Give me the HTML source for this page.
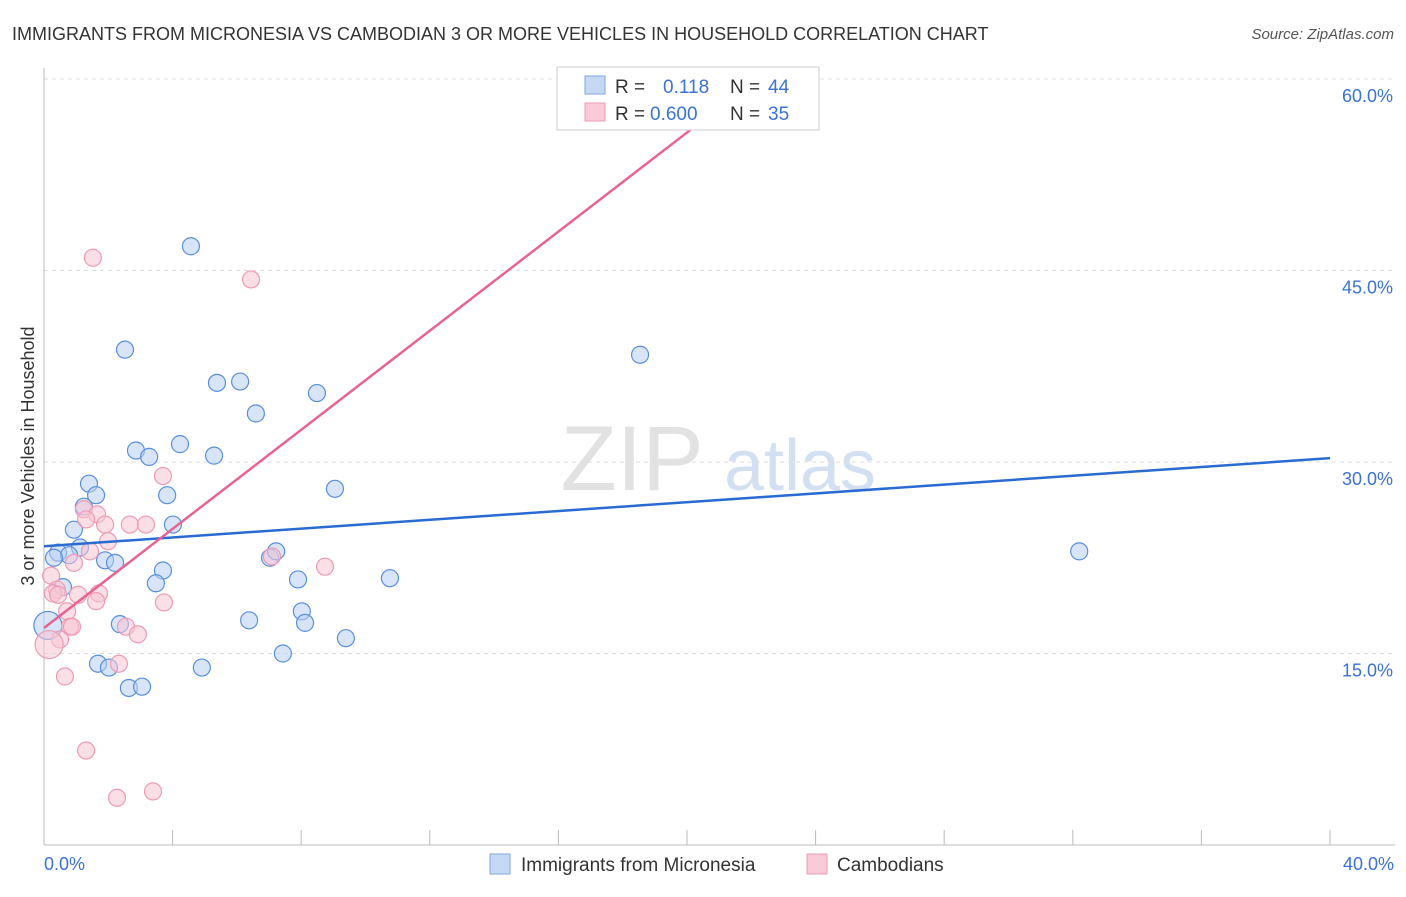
<!DOCTYPE html>
<html><head><meta charset="utf-8"><style>
body{margin:0;background:#fff;font-family:"Liberation Sans",sans-serif}
svg text{font-family:"Liberation Sans",sans-serif}
</style></head><body>
<svg id="chart" width="1406" height="892" xmlns="http://www.w3.org/2000/svg">
<text x="12" y="40" font-size="18" fill="#333">IMMIGRANTS FROM MICRONESIA VS CAMBODIAN 3 OR MORE VEHICLES IN HOUSEHOLD CORRELATION CHART</text>
<text x="1394" y="39" font-size="15" fill="#555" text-anchor="end" font-style="italic">Source: ZipAtlas.com</text>
<g>
<text x="632" y="490" font-size="92" fill="#e2e2e2" font-family="Liberation Serif" text-anchor="middle">ZIP</text>
<text x="800" y="490" font-size="72" fill="#d3e0f2" text-anchor="middle">atlas</text>
</g>
<g id="grid"></g>
<g id="axes"></g>
<g id="marks"></g>
<g id="lines"></g>
<text transform="translate(34,456) rotate(-90)" font-size="18" fill="#333" text-anchor="middle">3 or more Vehicles in Household</text>
<g>
<rect x="557" y="67" width="262" height="63" fill="#fff" stroke="#ccc"/>
<rect x="585" y="76" width="20" height="18" fill="#c5d9f5" stroke="#7ea6e0"/>
<rect x="585" y="103" width="20" height="18" fill="#f9cad8" stroke="#ee9bb5"/>
<text x="615" y="93" font-size="19" fill="#333">R = </text><text x="663" y="93" font-size="19" fill="#3a72d8">0.118</text>
<text x="730" y="93" font-size="19" fill="#333">N = </text><text x="768" y="93" font-size="19" fill="#3a72d8">44</text>
<text x="615" y="120" font-size="19" fill="#333">R = </text><text x="650" y="120" font-size="19" fill="#3a72d8">0.600</text>
<text x="730" y="120" font-size="19" fill="#333">N = </text><text x="768" y="120" font-size="19" fill="#3a72d8">35</text>
</g>
<g>
<rect x="490" y="854" width="20" height="20" fill="#c5d9f5" stroke="#7ea6e0"/>
<text x="521" y="871" font-size="19" fill="#333">Immigrants from Micronesia</text>
<rect x="807" y="854" width="20" height="20" fill="#f9cad8" stroke="#ee9bb5"/>
<text x="837" y="871" font-size="19" fill="#333">Cambodians</text>
</g>
</svg>
<script>
const blueX=[4.57,2.52,18.54,5.38,6.10,8.49,6.59,4.23,2.86,3.27,5.29,1.40,1.62,3.83,9.05,1.24,0.93,4.01,1.12,0.44,0.78,0.31,1.90,2.21,7.03,7.22,32.2,3.70,3.48,7.90,10.76,0.59,8.02,8.12,6.38,2.36,9.39,0.12,1.68,2.02,4.91,7.43,2.64,3.05];
const blueY=[46.9,38.8,38.4,36.2,36.3,35.4,33.8,31.4,30.9,30.4,30.5,28.3,27.4,27.4,27.9,26.5,24.7,25.1,23.3,22.9,22.7,22.5,22.3,22.1,22.5,23.0,23.0,21.5,20.5,20.8,20.9,20.2,18.3,17.4,17.6,17.3,16.2,17.2,14.2,13.9,13.9,15.0,12.3,12.4];
const pinkX=[1.52,6.44,3.70,1.24,1.65,1.31,1.90,2.67,3.17,1.99,1.43,0.93,8.74,7.09,0.22,0.40,0.28,0.44,1.71,1.62,1.06,3.73,0.72,0.81,0.87,2.55,2.92,0.50,0.16,2.33,0.65,1.31,2.27,3.39];
const pinkY=[46.0,44.3,28.9,26.3,25.9,25.5,25.1,25.1,25.1,23.8,23.0,22.1,21.8,22.6,21.1,20.0,19.7,19.6,19.7,19.1,19.6,19.0,18.3,17.1,17.1,17.1,16.5,16.1,15.7,14.2,13.2,7.4,3.7,4.2];
const yTicks=[15,30,45,60];
const yTickLabels=["15.0%","30.0%","45.0%","60.0%"];
const xTicks=[0,4,8,12,16,20,24,28,32,36,40];
const blueTrend=[[0,23.4],[40,30.3]];
const pinkTrend=[[0,17.0],[20.1,56.0]];
const NS="http://www.w3.org/2000/svg";
const sx=v=>44+v*1286/40, sy=v=>845-v*191.5/15;
function mk(t,a,p){const e=document.createElementNS(NS,t);for(const k in a)e.setAttribute(k,a[k]);p.appendChild(e);return e;}
const grid=document.getElementById('grid'),axes=document.getElementById('axes'),marks=document.getElementById('marks'),lines=document.getElementById('lines');
yTicks.forEach((v,i)=>{
 const l=mk('line',{x1:44,x2:1395,y1:sy(v),y2:sy(v),stroke:'#ddd','stroke-dasharray':'4,4'},grid);
 
 
 const t=mk('text',{x:1393,y:sy(v)+23,'font-size':18,fill:'#3a72d8','text-anchor':'end'},axes);
 t.textContent=yTickLabels[i];
 
 
});
mk('line',{x1:44,x2:44,y1:68,y2:845,stroke:'#bbb'},axes);
mk('line',{x1:44,x2:1395,y1:845,y2:845,stroke:'#bbb'},axes);
xTicks.forEach(v=>{if(v>0){const l=mk('line',{x1:sx(v),x2:sx(v),y1:830,y2:845,stroke:'#bbb'},axes);
 
 }});
const x0=mk('text',{x:44,y:870,'font-size':18,fill:'#3a72d8'},axes);x0.textContent='0.0%';


const x1=mk('text',{x:1394,y:870,'font-size':18,fill:'#3a72d8','text-anchor':'end'},axes);x1.textContent='40.0%';


function dots(X,Y,fill,stroke,name){X.forEach((x,i)=>{
 const big=x<0.2;
 const c=mk('circle',{cx:sx(x),cy:sy(Y[i]),r:big?14:8.5,fill:fill,'fill-opacity':0.55,stroke:stroke,'stroke-width':1.2},marks);
 
 });}
dots(blueX,blueY,'#b8d0f2','#5a8fdc','micronesia-point');
dots(pinkX,pinkY,'#f8c4d3','#ee9bb5','cambodian-point');
const bl=mk('line',{x1:sx(blueTrend[0][0]),y1:sy(blueTrend[0][1]),x2:sx(blueTrend[1][0]),y2:sy(blueTrend[1][1]),stroke:'#2a6bd1','stroke-width':2.5},lines);


const pl=mk('line',{x1:sx(pinkTrend[0][0]),y1:sy(pinkTrend[0][1]),x2:sx(pinkTrend[1][0]),y2:sy(pinkTrend[1][1]),stroke:'#e8648e','stroke-width':2.5},lines);


</script>
</body></html>
